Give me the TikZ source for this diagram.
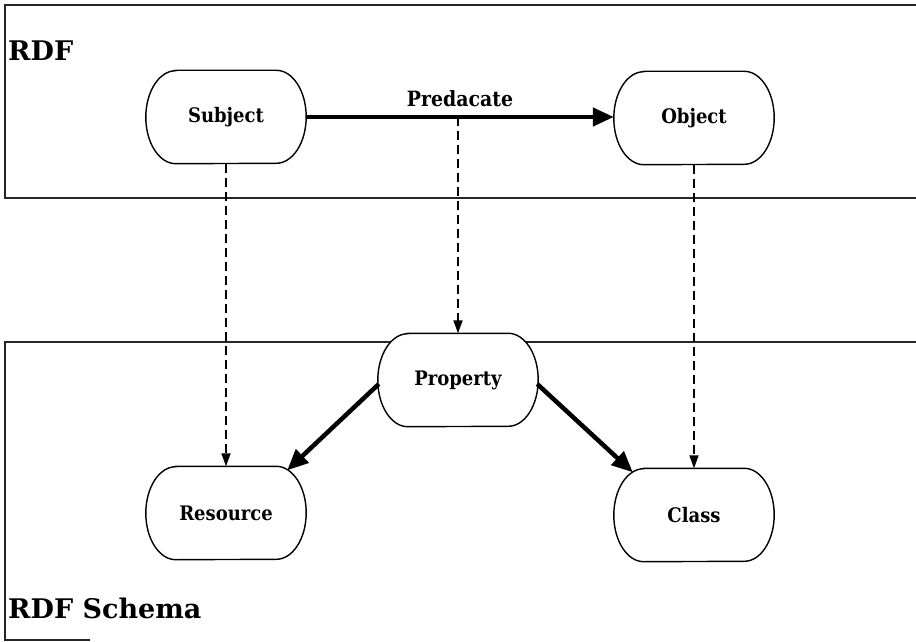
\documentclass[tikz,border=0pt]{standalone}
\usepackage{fontspec}
\usetikzlibrary{arrows.meta,calc}
\newfontfamily\headfont{DejaVu Serif}
\newfontfamily\labfont{DejaVu Serif Condensed}

\tikzset{
  layer/.style={line width=1.4pt, draw=black!85},
  term/.style={rectangle, draw=none, inner sep=0pt,
    minimum width=160pt, minimum height=93pt,
    font=\labfont\bfseries\fontsize{20}{22}\selectfont},
  outline/.style={draw=black, line width=1.4pt, fill=white},
  layertitle/.style={anchor=base west, inner sep=0pt,
    font=\headfont\bfseries\fontsize{27}{32}\selectfont},
  relation/.style={line width=4.5pt, -{Triangle[length=21pt,width=18pt]}},
  typeof/.style={line width=1.8pt, dash pattern=on 9pt off 5pt,
    -{Triangle[length=13pt,width=9pt]}},
}
% barrel-shaped outline drawn round a term node
\newcommand\barrel[1]{%
  \draw[outline] ($(#1.north west)+(30,0)$) -- ($(#1.north east)+(-30,0)$)
    arc[start angle=90, end angle=-90, x radius=30pt, y radius=46.5pt]
    -- ($(#1.south west)+(30,0)$)
    arc[start angle=270, end angle=90, x radius=30pt, y radius=46.5pt]
    -- cycle;}

\begin{document}
\begin{tikzpicture}[x=1pt,y=-1pt]
  \useasboundingbox (0,0) rectangle (916,642);
  \fill[white] (0,0) rectangle (916,642);

  % RDF layer frame (open to the right)
  \draw[layer] (916,5) -- (5,5) -- (5,198) -- (916,198);
  % RDF Schema layer frame
  \draw[layer] (916,342) -- (5,342) -- (5,640) -- (90,640);

  \node[layertitle] (rdf) at (8,60) {RDF};
  \node[layertitle] (rdfs) at (8,618) {RDF Schema};

  % term outlines
  \path (226,117) coordinate (c1) (694,118) coordinate (c2)
        (458,380) coordinate (c3) (226,513) coordinate (c4)
        (694,515) coordinate (c5);
  \foreach \c in {c1,c2,c3,c4,c5}{
    \node[term] (b\c) at (\c) {};
    \barrel{b\c}
  }

  % RDF statement
  \node[term] (subj) at (c1) {Subject};
  \node[term] (obj) at (c2) {Object};

  % RDF Schema vocabulary
  \node[term] (prop) at (c3) {Property};
  \node[term] (res) at (c4) {Resource};
  \node[term] (cls) at (c5) {Class};

  % predicate arc
  \draw[relation] (subj.east) -- node[above=8pt, inner sep=0pt,
      font=\labfont\bfseries\fontsize{21}{22}\selectfont] (pred) {Predacate}
    (subj.east -| obj.west);
  \coordinate (predpt) at (458,117);

  % instance-of links between the layers
  \draw[typeof] (subj.south) -- (res.north);
  \draw[typeof] (predpt) -- (prop.north);
  \draw[typeof] (obj.south) -- (cls.north);

  % domain and range
  \draw[relation] ($(prop.west)+(1,4)$) -- ($(res.north east)+(-19,4)$);
  \draw[relation] ($(prop.east)+(-1,4)$) -- ($(cls.north west)+(19,4)$);
\end{tikzpicture}
\end{document}
